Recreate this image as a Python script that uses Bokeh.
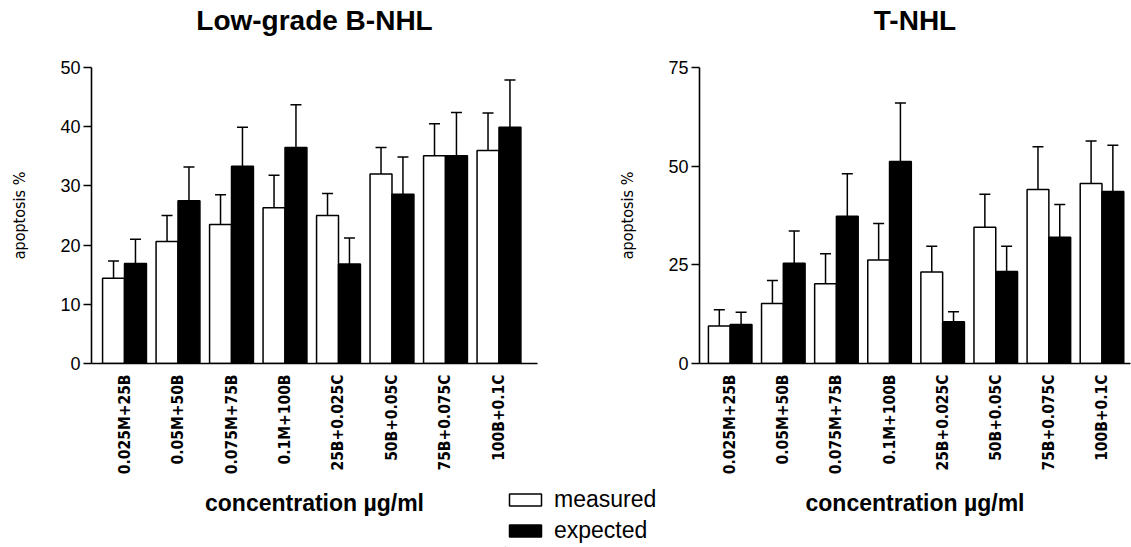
import math
from bokeh.plotting import figure
from bokeh.models import (ColumnDataSource, FixedTicker, Whisker, TeeHead,
                          Legend, LegendItem, Range1d)
from bokeh.layouts import row, column
from bokeh.transform import dodge
from bokeh.embed import file_html
from bokeh.resources import INLINE

# ---------------- data ----------------
categories = ["0.025M+25B", "0.05M+50B", "0.075M+75B", "0.1M+100B",
              "25B+0.025C", "50B+0.05C", "75B+0.075C", "100B+0.1C"]

bnhl_measured = [14.4, 20.6, 23.5, 26.3, 25.0, 32.0, 35.1, 36.0]
bnhl_measured_sem = [2.9, 4.4, 5.0, 5.5, 3.7, 4.5, 5.4, 6.3]
bnhl_expected = [16.9, 27.5, 33.3, 36.5, 16.8, 28.6, 35.1, 39.9]
bnhl_expected_sem = [4.1, 5.7, 6.6, 7.2, 4.4, 6.3, 7.3, 8.0]

tnhl_measured = [9.5, 15.2, 20.2, 26.2, 23.2, 34.5, 44.1, 45.6]
tnhl_measured_sem = [4.1, 5.8, 7.6, 9.3, 6.5, 8.4, 10.8, 10.8]
tnhl_expected = [9.9, 25.4, 37.3, 51.2, 10.6, 23.3, 32.0, 43.6]
tnhl_expected_sem = [3.1, 8.2, 10.8, 14.8, 2.5, 6.4, 8.3, 11.7]

bnhl_yticks = [0, 10, 20, 30, 40, 50]
tnhl_yticks = [0, 25, 50, 75]

series_names = ["measured", "expected"]
titles = ["Low-grade B-NHL", "T-NHL"]
x_title = "concentration µg/ml"
y_title = "apoptosis %"

NARROW = "'DejaVu Sans Condensed', 'Liberation Sans', sans-serif"
SANS = "'Liberation Sans', sans-serif"
H = 547
TOP = 67
FRAME_H = 296
HW = 0.205  # half of the pair offset


def make_chart(title, meas, meas_sem, exp, exp_sem, yticks, x_start, x_end,
               width, mb_left, mb_right):
    xs = list(range(len(categories)))
    src = ColumnDataSource(dict(
        x=xs,
        measured=meas,
        measured_top=[v + e for v, e in zip(meas, meas_sem)],
        expected=exp,
        expected_top=[v + e for v, e in zip(exp, exp_sem)],
    ))
    p = figure(width=width, height=H, output_backend="svg", toolbar_location=None,
               x_range=Range1d(x_start, x_end), y_range=Range1d(0, yticks[-1]),
               min_border_left=mb_left, min_border_right=mb_right,
               min_border_top=TOP, min_border_bottom=H - TOP - FRAME_H)
    p.border_fill_color = None
    p.background_fill_color = None
    p.outline_line_color = None
    p.grid.visible = False

    p.title.text = title
    p.title.align = "center"
    p.title.text_font = SANS
    p.title.text_font_size = "28px"
    p.title.text_font_style = "bold"
    p.title.text_color = "black"
    try:
        p.title.padding = dict(left=0, right=0, top=0, bottom=32)
        p.title.standoff = 0
    except Exception:
        p.title.standoff = 33

    p.vbar(x=dodge("x", -HW, range=p.x_range), top="measured", width=0.41,
           bottom=0, source=src, fill_color="white", line_color="black",
           line_width=1.5)
    p.vbar(x=dodge("x", HW, range=p.x_range), top="expected", width=0.41,
           bottom=0, source=src, fill_color="black", line_color="black",
           line_width=1.5)
    for off, lo, up in [(-HW, "measured", "measured_top"), (HW, "expected", "expected_top")]:
        w = Whisker(base=dodge("x", off, range=p.x_range), lower=lo, upper=up,
                    source=src, dimension="height", line_color="black", line_width=1.5,
                    lower_head=None,
                    upper_head=TeeHead(size=11, line_color="black", line_width=1.5))
        p.add_layout(w)

    for ax in (p.xaxis[0], p.yaxis[0]):
        ax.axis_line_color = "black"
        ax.axis_line_width = 1.6
        ax.major_tick_line_color = "black"
        ax.major_tick_line_width = 1.6
        ax.minor_tick_line_color = None
        ax.major_label_text_color = "black"
        ax.axis_label_text_color = "black"

    xa = p.xaxis[0]
    xa.ticker = FixedTicker(ticks=xs)
    xa.major_label_overrides = {i: c for i, c in enumerate(categories)}
    xa.major_label_orientation = math.pi / 2
    xa.major_tick_out = 0
    xa.major_tick_in = 0
    xa.major_label_standoff = 11
    xa.major_label_text_font = NARROW
    xa.major_label_text_font_style = "bold"
    xa.major_label_text_font_size = "15.5px"
    xa.axis_label = x_title
    xa.axis_label_text_font = SANS
    xa.axis_label_text_font_style = "bold"
    xa.axis_label_text_font_size = "23px"
    xa.axis_label_standoff = 13

    ya = p.yaxis[0]
    ya.ticker = FixedTicker(ticks=yticks)
    ya.major_tick_out = 8
    ya.major_tick_in = 0
    ya.major_label_standoff = 3
    ya.major_label_text_font = SANS
    ya.major_label_text_font_size = "18px"
    ya.axis_label = y_title
    ya.axis_label_text_font = NARROW
    ya.axis_label_text_font_style = "normal"
    ya.axis_label_text_font_size = "16px"
    ya.axis_label_standoff = 28
    return p


p1 = make_chart(titles[0], bnhl_measured, bnhl_measured_sem, bnhl_expected,
                bnhl_expected_sem, bnhl_yticks, -0.617, 7.72,
                width=615, mb_left=91, mb_right=78)
p2 = make_chart(titles[1], tnhl_measured, tnhl_measured_sem, tnhl_expected,
                tnhl_expected_sem, tnhl_yticks, -0.578, 7.537,
                width=516, mb_left=80, mb_right=1)

# ---------------- legend (small overlaid panel) ----------------
LEG_H = 63
pl = figure(width=170, height=LEG_H, output_backend="svg", toolbar_location=None,
            x_range=Range1d(0, 1), y_range=Range1d(0, 1),
            x_axis_type=None, y_axis_type=None,
            min_border=0, margin=(-LEG_H, 0, 0, 505))
pl.border_fill_color = None
pl.background_fill_color = None
pl.outline_line_color = None
pl.grid.visible = False
# swatch renderers: their single bar lies far outside the (hidden) ranges
lr1 = pl.vbar(x=[-50], top=[-50], bottom=[-60], width=0.1, fill_color="white",
              line_color="black", line_width=1.5)
lr2 = pl.vbar(x=[-50], top=[-50], bottom=[-60], width=0.1, fill_color="black",
              line_color="black", line_width=1.5)
leg = Legend(items=[LegendItem(label=series_names[0], renderers=[lr1]),
                    LegendItem(label=series_names[1], renderers=[lr2])],
             location=(0, 3), orientation="vertical",
             glyph_width=40, glyph_height=15, label_standoff=9,
             spacing=4, padding=0, margin=0,
             border_line_alpha=0, background_fill_alpha=0,
             label_text_font=SANS, label_text_font_size="23px",
             label_text_color="black")
pl.add_layout(leg, "center")

layout = column(row(p1, p2), pl)
open("out.html", "w").write(file_html(layout, INLINE))
